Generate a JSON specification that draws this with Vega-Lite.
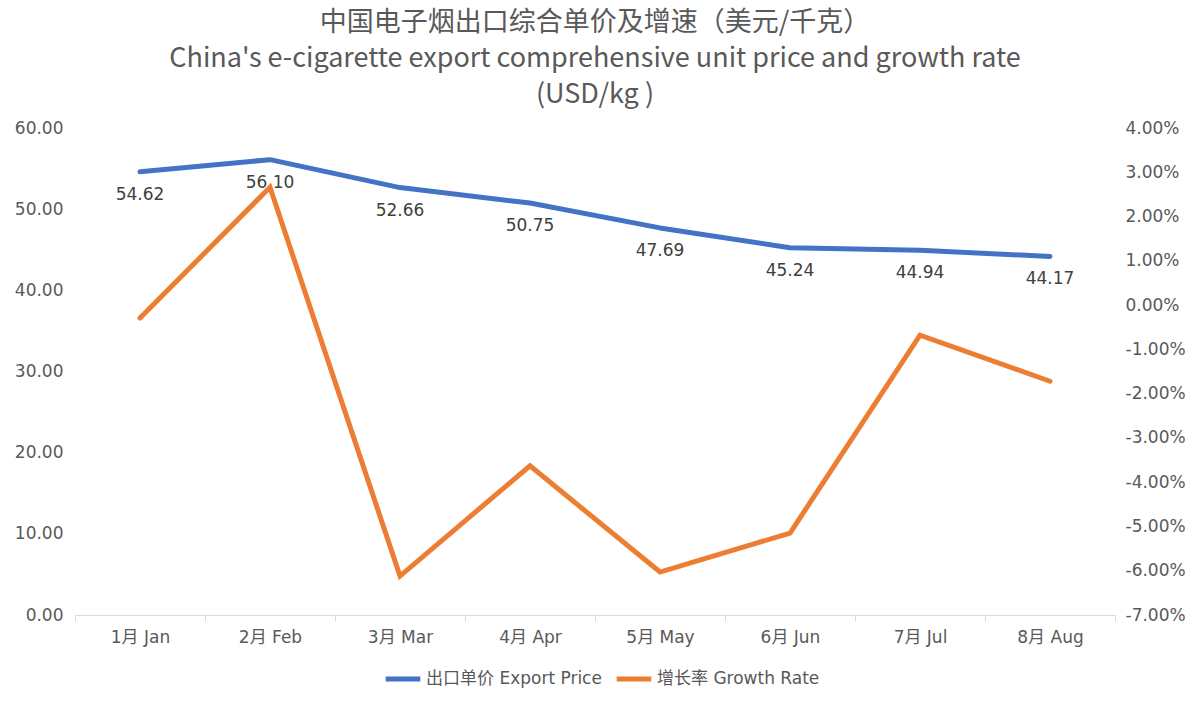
{
  "$schema": "https://vega.github.io/schema/vega-lite/v6.json",
  "autosize": {"type": "none"},
  "width": 1040,
  "height": 487,
  "padding": {"left": 75, "top": 128, "right": 85, "bottom": 88},
  "background": "white",
  "config": {
    "view": {"stroke": null},
    "font": "DejaVu Sans, Noto Sans CJK SC",
    "locale": {"number": {"decimal": ".", "thousands": ",", "grouping": [3], "currency": ["$", ""], "minus": "-"}}
  },
  "title": {
    "text": ["中国电子烟出口综合单价及增速（美元/千克）", "China's e-cigarette export comprehensive unit price and growth rate", "(USD/kg )"],
    "fontSize": 27,
    "fontWeight": "normal",
    "color": "#595959",
    "lineHeight": 36,
    "anchor": "middle",
    "offset": 10,
    "font": "Noto Sans CJK SC"
  },
  "data": {
    "values": [
      {"month": "1月 Jan", "price": 54.62, "growth": -0.0029},
      {"month": "2月 Feb", "price": 56.10, "growth": 0.0266},
      {"month": "3月 Mar", "price": 52.66, "growth": -0.0612},
      {"month": "4月 Apr", "price": 50.75, "growth": -0.0363},
      {"month": "5月 May", "price": 47.69, "growth": -0.0603},
      {"month": "6月 Jun", "price": 45.24, "growth": -0.0515},
      {"month": "7月 Jul", "price": 44.94, "growth": -0.0068},
      {"month": "8月 Aug", "price": 44.17, "growth": -0.0172}
    ]
  },
  "encoding": {
    "x": {
      "field": "month",
      "type": "ordinal",
      "sort": null,
      "scale": {"type": "band", "paddingInner": 0, "paddingOuter": 0},
      "axis": {
        "title": null,
        "labelAngle": 0,
        "labelFontSize": 17,
        "labelColor": "#595959",
        "labelPadding": 8,
        "domainColor": "#d9d9d9",
        "tickColor": "#d9d9d9",
        "tickBand": "extent",
        "tickSize": 6,
        "grid": false
      }
    }
  },
  "layer": [
    {
      "layer": [
        {
          "mark": {"type": "line", "strokeWidth": 5, "strokeCap": "round", "strokeJoin": "round"},
          "encoding": {
            "y": {
              "field": "price",
              "type": "quantitative",
              "scale": {"domain": [0, 60]},
              "axis": {
                "title": null,
                "values": [0, 10, 20, 30, 40, 50, 60],
                "format": ".2f",
                "labelFontSize": 17,
                "labelColor": "#595959",
                "domain": false,
                "ticks": false,
                "grid": false,
                "labelPadding": 12
              }
            },
            "color": {
              "datum": "出口单价 Export Price",
              "scale": {"domain": ["出口单价 Export Price", "增长率 Growth Rate"], "range": ["#4472C4", "#ED7D31"]},
              "legend": {
                "orient": "none",
                "legendX": 308,
                "legendY": 531,
                "direction": "horizontal",
                "title": null,
                "symbolType": "stroke",
                "symbolStrokeWidth": 5,
                "symbolSize": 1200,
                "labelFontSize": 17,
                "labelColor": "#595959",
                "labelOffset": 3,
                "columnPadding": 4,
                "labelLimit": 400
              }
            }
          }
        },
        {
          "mark": {"type": "text", "dy": 23, "fontSize": 17, "color": "#404040"},
          "encoding": {
            "y": {"field": "price", "type": "quantitative"},
            "text": {"field": "price", "type": "quantitative", "format": ".2f"}
          }
        }
      ]
    },
    {
      "mark": {"type": "line", "strokeWidth": 5, "strokeCap": "round", "strokeJoin": "miter"},
      "encoding": {
        "y": {
          "field": "growth",
          "type": "quantitative",
          "scale": {"domain": [-0.07, 0.04]},
          "axis": {
            "orient": "right",
            "title": null,
            "values": [-0.07, -0.06, -0.05, -0.04, -0.03, -0.02, -0.01, 0, 0.01, 0.02, 0.03, 0.04],
            "format": ".2%",
            "labelFontSize": 17,
            "labelColor": "#595959",
            "domain": false,
            "ticks": false,
            "grid": false,
            "labelPadding": 10
          }
        },
        "color": {"datum": "增长率 Growth Rate"}
      }
    }
  ],
  "resolve": {"scale": {"y": "independent"}}
}
